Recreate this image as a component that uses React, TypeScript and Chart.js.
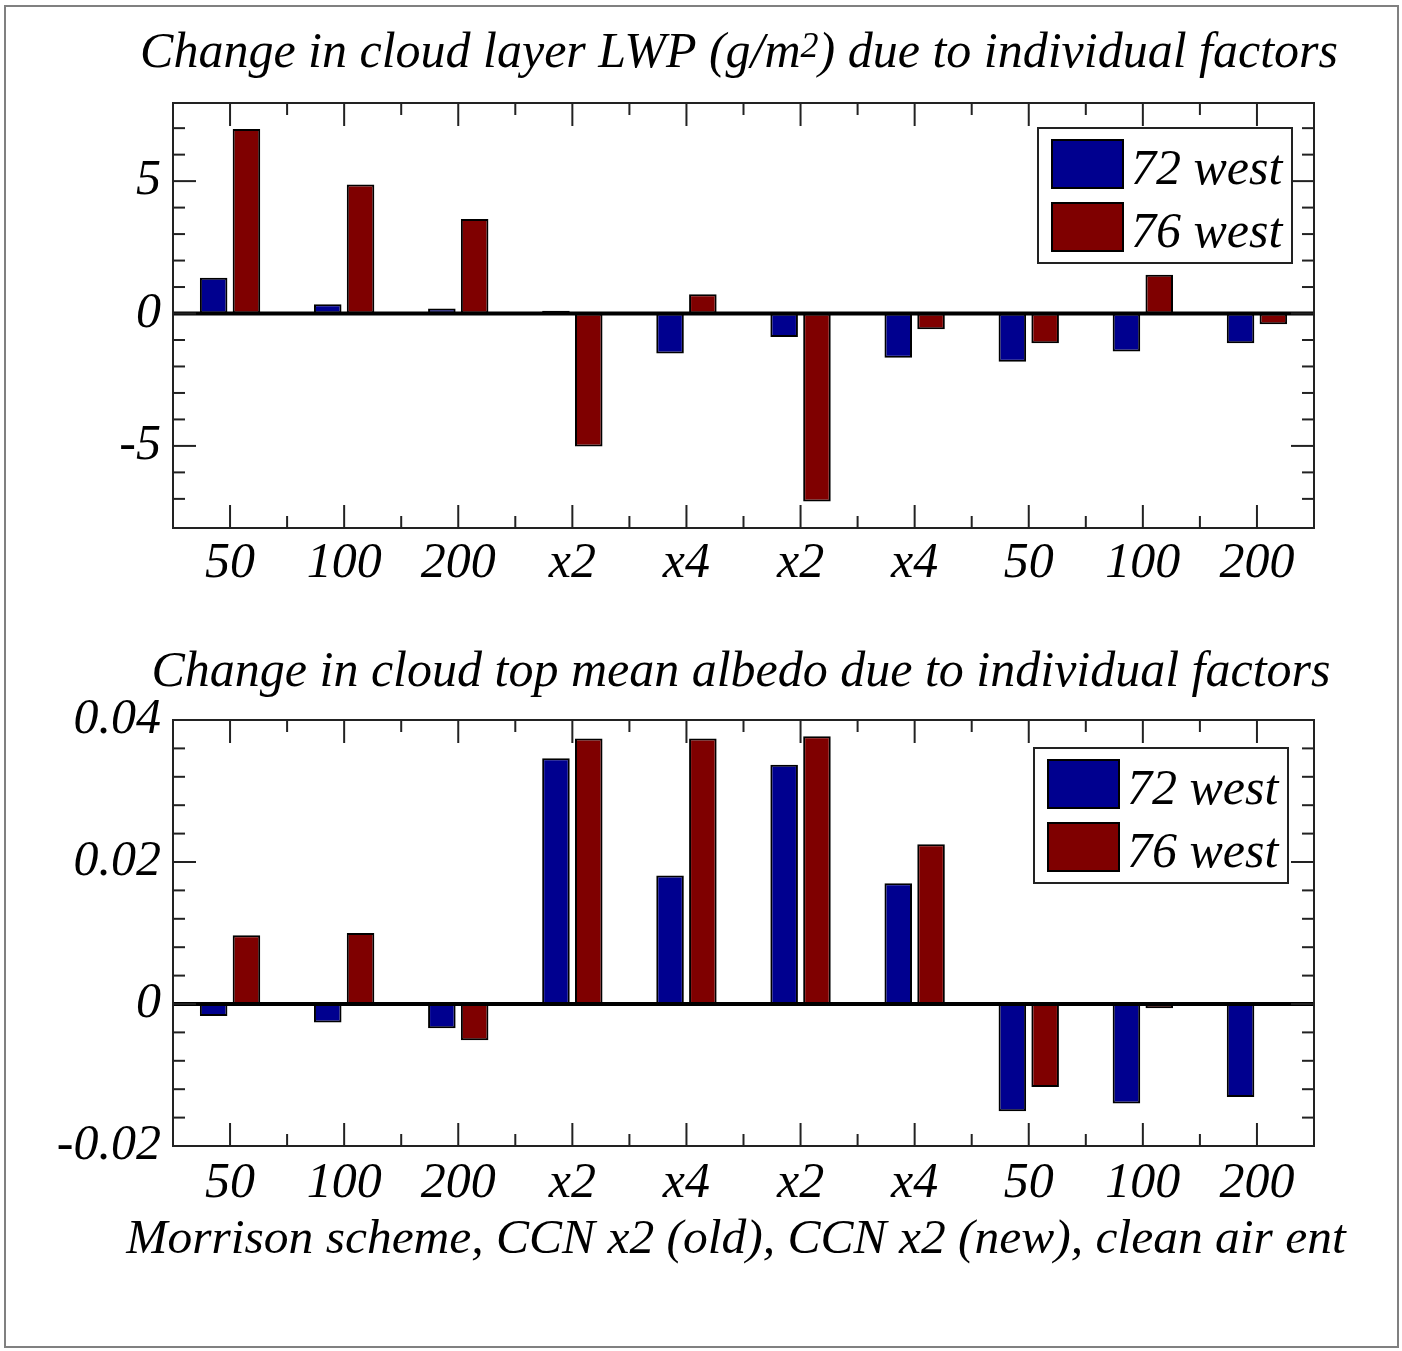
import { useEffect, useRef } from 'react';
import { Chart, registerables } from 'chart.js';

Chart.register(...registerables);

// Runs on the x axis (same for both panels)
const categories = ['50', '100', '200', 'x2', 'x4', 'x2', 'x4', '50', '100', '200'];
const seriesNames = ['72 west', '76 west'];

// Change in cloud layer LWP (g/m2)
const lwpWest72 = [1.35, 0.35, 0.19, 0.1, -1.51, -0.89, -1.67, -1.82, -1.43, -1.12];
const lwpWest76 = [6.97, 4.87, 3.57, -5.02, 0.73, -7.1, -0.59, -1.12, 1.46, -0.41];
const lwpMajorTicks = [-5, 0, 5];
const lwpTickLabels = ['-5', '0', '5'];
const lwpMinorTicks = [-7, -6, -4, -3, -2, -1, 1, 2, 3, 4, 6, 7];

// Change in cloud top mean albedo
const albedoWest72 = [-0.0017, -0.0026, -0.0034, 0.0346, 0.0181, 0.0337, 0.017, -0.0151, -0.014, -0.0131];
const albedoWest76 = [0.0097, 0.01, -0.0051, 0.0374, 0.0374, 0.0377, 0.0225, -0.0117, -0.0006, 0];
const albedoMajorTicks = [-0.02, 0, 0.02, 0.04];
const albedoTickLabels = ['-0.02', '0', '0.02', '0.04'];
const albedoMinorTicks = [-0.016, -0.012, -0.008, -0.004, 0.004, 0.008, 0.012, 0.016, 0.024, 0.028, 0.032, 0.036];

// Heading text, split where a part is set as a superscript
type Part = { text: string; sup?: boolean };
const lwpTitle: Part[] = [
  { text: 'Change in cloud layer LWP (g/m' },
  { text: '2', sup: true },
  { text: ') due to individual factors' },
];
const albedoTitle: Part[] = [{ text: 'Change in cloud top mean albedo due to individual factors' }];
const runsCaption: Part[] = [{ text: 'Morrison scheme, CCN x2 (old), CCN x2 (new), clean air ent' }];

const FONT = "'Liberation Serif', 'Times New Roman', serif";
const BLUE = '#00008f';
const RED = '#7f0000';

type Line = { parts: Part[]; cx: number; y: number; size: number };

// Boxed frame with inward ticks on all four sides, plus the zero line
const frameTicks = {
  id: 'frameTicks',
  afterDatasetsDraw(chart: any, _args: any, opts: any) {
    const { ctx, chartArea: a, scales } = chart;
    const x = scales.x;
    const y = scales.y;
    ctx.save();
    ctx.lineCap = 'butt';

    const y0 = y.getPixelForValue(0);
    ctx.strokeStyle = '#000';
    ctx.lineWidth = 4;
    ctx.beginPath();
    ctx.moveTo(a.left, y0);
    ctx.lineTo(a.right, y0);
    ctx.stroke();

    ctx.strokeStyle = '#222';
    ctx.lineWidth = 2;
    ctx.strokeRect(a.left, a.top, a.right - a.left, a.bottom - a.top);

    const major = 23;
    const minor = 12;
    const seg = (x1: number, y1: number, x2: number, y2: number) => {
      ctx.beginPath();
      ctx.moveTo(x1, y1);
      ctx.lineTo(x2, y2);
      ctx.stroke();
    };
    const yTick = (v: number, len: number) => {
      const py = y.getPixelForValue(v);
      seg(a.left, py, a.left + len, py);
      seg(a.right - len, py, a.right, py);
    };
    const xTick = (px: number, len: number) => {
      seg(px, a.bottom, px, a.bottom - len);
      seg(px, a.top, px, a.top + len);
    };
    (opts.major as number[]).forEach((v) => yTick(v, major));
    (opts.minor as number[]).forEach((v) => yTick(v, minor));
    const n = chart.data.labels.length;
    for (let i = 0; i < n; i++) {
      const c = x.getPixelForValue(i);
      xTick(c, major);
      if (i < n - 1) xTick((c + x.getPixelForValue(i + 1)) / 2, minor);
    }
    ctx.restore();
  },
};

// Legend box drawn inside the plot, top-right
const boxLegend = {
  id: 'boxLegend',
  afterDraw(chart: any, _args: any, opts: any) {
    const { ctx, chartArea: a } = chart;
    const w = 254;
    const h = 135;
    const bx = a.right - opts.right - w;
    const by = a.top + opts.top;
    ctx.save();
    ctx.fillStyle = '#fff';
    ctx.fillRect(bx, by, w, h);
    ctx.strokeStyle = '#222';
    ctx.lineWidth = 2;
    ctx.strokeRect(bx, by, w, h);
    ctx.font = `italic 50px ${FONT}`;
    ctx.textAlign = 'left';
    ctx.textBaseline = 'alphabetic';
    chart.data.datasets.forEach((ds: any, i: number) => {
      const sy = by + 12 + i * 63;
      ctx.fillStyle = ds.backgroundColor;
      ctx.fillRect(bx + 14, sy, 71, 48);
      ctx.strokeStyle = '#000';
      ctx.strokeRect(bx + 14, sy, 71, 48);
      ctx.fillStyle = '#000';
      ctx.fillText(ds.label, bx + 93, sy + 44);
    });
    ctx.restore();
  },
};

// Centred italic headings (panel title and axis caption) with superscript support
const headings = {
  id: 'headings',
  afterDraw(chart: any, _args: any, opts: any) {
    const ctx = chart.ctx;
    ctx.save();
    ctx.fillStyle = '#000';
    ctx.textAlign = 'left';
    ctx.textBaseline = 'alphabetic';
    (opts.lines as Line[]).forEach((line) => {
      const mainFont = `italic ${line.size}px ${FONT}`;
      const supFont = `italic ${Math.round(line.size * 0.72)}px ${FONT}`;
      const widths = line.parts.map((pt) => {
        ctx.font = pt.sup ? supFont : mainFont;
        return ctx.measureText(pt.text).width;
      });
      const total = widths.reduce((s, w) => s + w, 0);
      let x = line.cx - total / 2;
      line.parts.forEach((pt, i) => {
        ctx.font = pt.sup ? supFont : mainFont;
        ctx.fillText(pt.text, x, pt.sup ? line.y - 10 : line.y);
        x += widths[i];
      });
    });
    ctx.restore();
  },
};

type PanelProps = {
  top: number;
  height: number;
  padTop: number;
  lines: Line[];
  xAxisHeight: number;
  xTickPad: number;
  west72: number[];
  west76: number[];
  min: number;
  max: number;
  major: number[];
  majorLabels: string[];
  minor: number[];
  legend: { right: number; top: number };
};

function BarPanel(p: PanelProps) {
  const ref = useRef<HTMLCanvasElement>(null);

  useEffect(() => {
    const font = { family: FONT, size: 50, style: 'italic' as const, weight: 'normal' as const, lineHeight: 1.2 };
    const chart = new Chart(ref.current!, {
      type: 'bar',
      data: {
        labels: categories,
        datasets: [
          { label: seriesNames[0], data: p.west72, backgroundColor: BLUE, borderColor: '#000', borderWidth: 2, borderSkipped: false },
          { label: seriesNames[1], data: p.west76, backgroundColor: RED, borderColor: '#000', borderWidth: 2, borderSkipped: false },
        ],
      },
      options: {
        animation: false,
        responsive: false,
        maintainAspectRatio: false,
        layout: { padding: { left: 0, right: 88, top: p.padTop, bottom: 0 } },
        datasets: { bar: { categoryPercentage: 0.575, barPercentage: 0.84 } },
        plugins: {
          legend: { display: false },
          tooltip: { enabled: false },
          title: { display: false },
          frameTicks: { major: p.major, minor: p.minor },
          boxLegend: p.legend,
          headings: { lines: p.lines },
        } as any,
        scales: {
          x: {
            grid: { display: false, drawTicks: false },
            border: { display: false },
            ticks: { font, color: '#000', padding: p.xTickPad, maxRotation: 0, autoSkip: false },
            afterFit: (s: any) => {
              s.height = p.xAxisHeight;
            },
          },
          y: {
            min: p.min,
            max: p.max,
            grid: { display: false, drawTicks: false },
            border: { display: false },
            ticks: {
              font,
              color: '#000',
              padding: 12,
              callback: (_v: any, i: number) => p.majorLabels[i],
            },
            afterBuildTicks: (s: any) => {
              s.ticks = p.major.map((v) => ({ value: v }));
            },
            afterFit: (s: any) => {
              s.width = 173;
            },
          },
        },
      },
      plugins: [frameTicks, boxLegend, headings],
    });
    return () => chart.destroy();
  }, []);

  return (
    <canvas
      ref={ref}
      width={1402}
      height={p.height}
      style={{ position: 'absolute', left: 0, top: p.top, width: 1402, height: p.height }}
    />
  );
}

export default function App() {
  return (
    <div style={{ position: 'absolute', left: 0, top: 0, width: 1402, height: 1351, background: '#fff', overflow: 'hidden' }}>
      <BarPanel
        top={0}
        height={620}
        padTop={103}
        lines={[{ parts: lwpTitle, cx: 739, y: 67, size: 50 }]}
        xAxisHeight={92}
        xTickPad={6}
        west72={lwpWest72}
        west76={lwpWest76}
        min={-8.1}
        max={7.95}
        major={lwpMajorTicks}
        majorLabels={lwpTickLabels}
        minor={lwpMinorTicks}
        legend={{ right: 22, top: 25 }}
      />
      <BarPanel
        top={620}
        height={731}
        padTop={100}
        lines={[
          { parts: albedoTitle, cx: 741, y: 66, size: 50 },
          { parts: runsCaption, cx: 736, y: 633, size: 49.5 },
        ]}
        xAxisHeight={205}
        xTickPad={8}
        west72={albedoWest72}
        west76={albedoWest76}
        min={-0.02}
        max={0.04}
        major={albedoMajorTicks}
        majorLabels={albedoTickLabels}
        minor={albedoMinorTicks}
        legend={{ right: 26, top: 28 }}
      />
      <div
        style={{
          position: 'absolute',
          left: 4,
          top: 5,
          width: 1395,
          height: 1343,
          border: '2px solid #808080',
          boxSizing: 'border-box',
          pointerEvents: 'none',
        }}
      />
    </div>
  );
}
